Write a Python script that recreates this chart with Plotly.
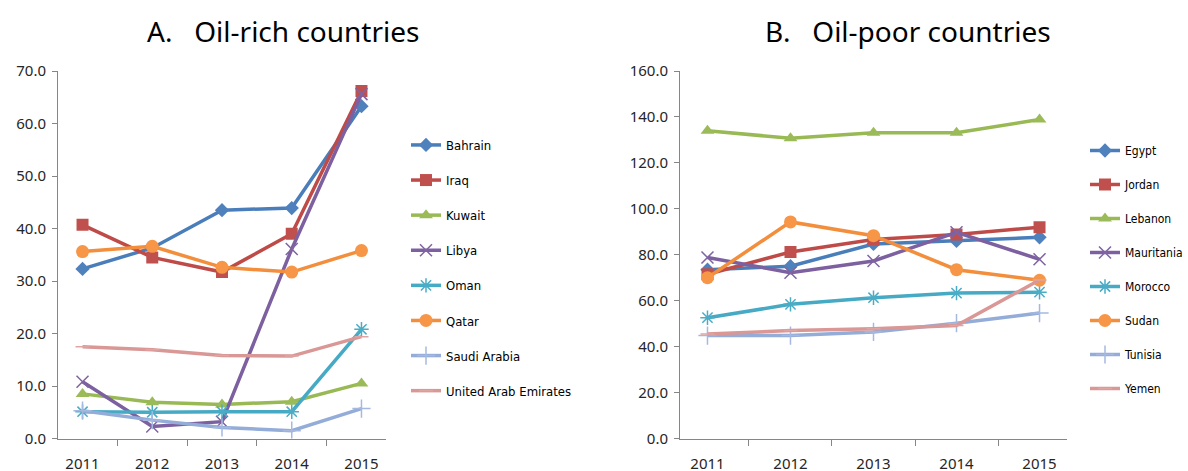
import plotly.graph_objects as go

years = ["2011", "2012", "2013", "2014", "2015"]

# Panel A: oil-rich countries
rich_names = ["Bahrain", "Iraq", "Kuwait", "Libya", "Oman", "Qatar",
              "Saudi Arabia", "United Arab Emirates"]
bahrain = [32.3, 36.3, 43.5, 43.9, 63.3]
iraq = [40.7, 34.5, 31.7, 39.0, 66.2]
kuwait = [8.5, 6.9, 6.5, 7.0, 10.5]
libya = [10.8, 2.3, 3.2, 36.1, 65.6]
oman = [5.1, 5.0, 5.1, 5.1, 20.8]
qatar = [35.6, 36.6, 32.6, 31.7, 35.8]
saudi = [5.3, 3.5, 2.1, 1.5, 5.7]
uae = [17.5, 16.9, 15.8, 15.7, 19.4]
rich_values = [bahrain, iraq, kuwait, libya, oman, qatar, saudi, uae]

# Panel B: oil-poor countries
poor_names = ["Egypt", "Jordan", "Lebanon", "Mauritania", "Morocco", "Sudan",
              "Tunisia", "Yemen"]
egypt = [73.5, 75.0, 84.7, 86.0, 87.6]
jordan = [71.5, 81.2, 86.6, 88.8, 92.0]
lebanon = [134.0, 130.7, 133.1, 133.1, 138.9]
mauritania = [78.8, 72.2, 77.3, 89.8, 78.0]
morocco = [52.6, 58.4, 61.3, 63.3, 63.7]
sudan = [70.0, 94.3, 88.3, 73.5, 68.9]
tunisia = [44.8, 44.8, 46.4, 50.2, 54.6]
yemen = [45.5, 47.0, 47.8, 49.2, 69.0]
poor_values = [egypt, jordan, lebanon, mauritania, morocco, sudan, tunisia, yemen]

line_colors = ["#4A7EBB", "#BE4B48", "#98B954", "#7D60A0",
               "#46AAC5", "#F28E3C", "#93ACD8", "#D99795"]
marker_colors = ["#4F81BD", "#C0504D", "#9BBB59", "#8064A2",
                 "#4BACC6", "#F79646", "#A5B9E0", "#E0A5A3"]
symbols = ["diamond", "square", "triangle-up", "x-thin-open",
           "asterisk-open", "circle", "cross-thin-open", "line-ew-open"]
sizes = [11, 12, 12, 12, 12, 13, 13, 10]

font_main = "Noto Sans, sans-serif"
font_legend = "DejaVu Sans Condensed, Roboto, sans-serif"

fig = go.Figure()


def add_series(names, values, xaxis, yaxis, legend):
    for i, (name, vals) in enumerate(zip(names, values)):
        sym = symbols[i]
        is_open = sym.endswith("-open")
        marker = dict(symbol=sym, size=sizes[i], color=marker_colors[i])
        if is_open:
            marker["line"] = dict(color=marker_colors[i], width=1.5)
        else:
            marker["line"] = dict(color=marker_colors[i], width=0)
        fig.add_trace(go.Scatter(
            x=years, y=vals, name=name, mode="lines+markers",
            line=dict(color=line_colors[i], width=3.5),
            marker=marker, xaxis=xaxis, yaxis=yaxis, legend=legend,
            legendgroup=f"{legend}_{i}",
        ))


add_series(rich_names, rich_values, "x", "y", "legend")
add_series(poor_names, poor_values, "x2", "y2", "legend2")

W, H = 1188, 471
axis_color = "#868686"
tick_font = dict(family=font_main, size=15, color="#262626")

common_x = dict(type="category", showgrid=False, showline=True,
                linecolor=axis_color, linewidth=1, ticks="outside",
                tickson="boundaries", ticklen=6, tickcolor=axis_color,
                tickfont=tick_font, ticklabelstandoff=11, zeroline=False,
                automargin=False)
common_y = dict(showgrid=False, showline=True, linecolor=axis_color,
                linewidth=1, ticks="outside", ticklen=5, tickcolor=axis_color,
                tickfont=tick_font, tickformat=".1f", zeroline=False,
                ticklabelstandoff=3, automargin=False)

y_dom = [(H - 438.5) / H, (H - 71) / H]

fig.update_layout(
    width=W, height=H,
    margin=dict(l=0, r=0, t=0, b=0, autoexpand=False),
    paper_bgcolor="white", plot_bgcolor="white",
    font=dict(family=font_main, color="#000000"),
    xaxis=dict(domain=[58 / W, 386 / W], anchor="y", **common_x),
    yaxis=dict(domain=y_dom, anchor="x", range=[0, 70], dtick=10, **common_y),
    xaxis2=dict(domain=[680 / W, 1067 / W], anchor="y2", **common_x),
    yaxis2=dict(domain=y_dom, anchor="x2", range=[0, 160], dtick=20, **common_y),
    legend=dict(x=406 / W, y=1 - 130 / H, xanchor="left", yanchor="top",
                font=dict(family=font_legend, size=13, color="#000000"),
                tracegroupgap=15.2, bgcolor="rgba(0,0,0,0)", itemwidth=30),
    legend2=dict(x=1085 / W, y=1 - 136 / H, xanchor="left", yanchor="top",
                 font=dict(family=font_legend, size=12, color="#000000"),
                 tracegroupgap=15, bgcolor="rgba(0,0,0,0)", itemwidth=30),
    annotations=[
        dict(text="A.   Oil-rich countries", x=283 / W, y=1 - 31 / H,
             xref="paper", yref="paper", xanchor="center", yanchor="middle",
             showarrow=False,
             font=dict(family=font_main, size=28, color="#000000")),
        dict(text="B.   Oil-poor countries", x=908 / W, y=1 - 31 / H,
             xref="paper", yref="paper", xanchor="center", yanchor="middle",
             showarrow=False,
             font=dict(family=font_main, size=28, color="#000000")),
    ],
    showlegend=True,
)

fig.write_html("out.html")
